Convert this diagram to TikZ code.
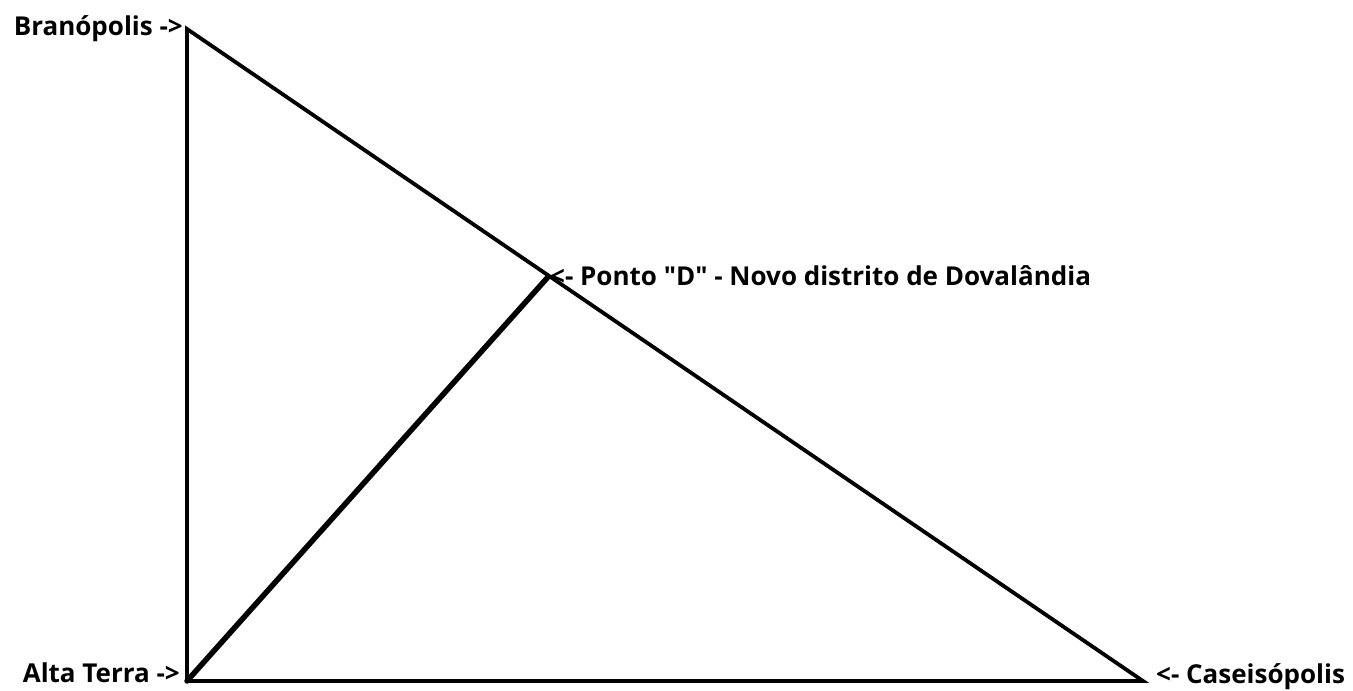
\documentclass[tikz,border=0pt]{standalone}
\usepackage{fontspec}
\newfontfamily\lblfont{Open Sans}
\begin{document}
\begin{tikzpicture}[x=1pt,y=-1pt,
  lbl/.style={font=\lblfont\bfseries\fontsize{26}{30}\selectfont, inner sep=0pt},
  side/.style={line width=3.8pt, line cap=round, line join=miter},
  cut/.style={line width=5.5pt, line cap=round}]
\useasboundingbox (0,0) rectangle (1353,691);
\coordinate (B) at (187,29);
\coordinate (A) at (187,681);
\coordinate (C) at (1143,681);
\coordinate (D) at (548,277);
\draw[side] (B) -- (A) -- (C) -- cycle;
\draw[cut] (A) -- (D);
\node[lbl, anchor=east] (lb) at (183,29) {Branópolis ->};
\node[lbl, anchor=east] (la) at (180,673) {Alta Terra ->};
\node[lbl, anchor=west] (lc) at (1156,677) {<- Caseisópolis};
\node[lbl, anchor=west] (ld) at (550,276) {<- Ponto "D" - Novo distrito de Dovalândia};
\end{tikzpicture}
\end{document}
